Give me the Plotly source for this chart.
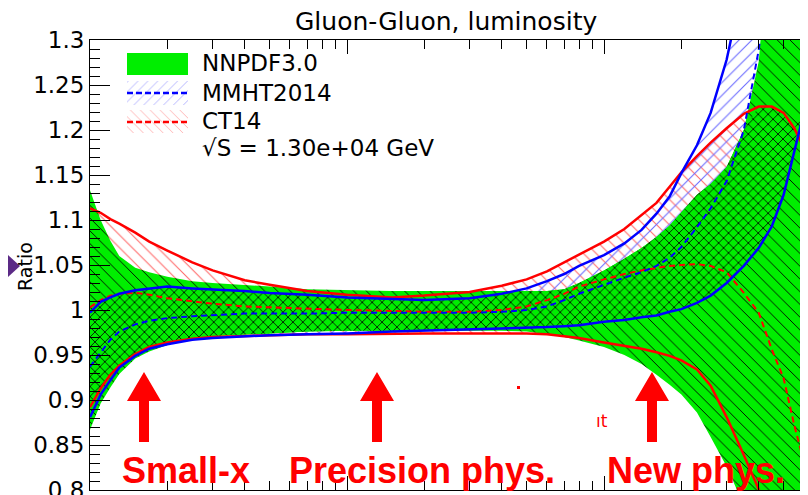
import numpy as np
import plotly.graph_objects as go

# ---------------- data ----------------
mass_gev = [10, 11, 12, 13, 15, 17, 20, 25, 30, 40, 50, 70, 100, 150, 200, 300, 400,
            500, 600, 700, 800, 1000, 1200, 1400, 1600, 1800, 2000, 2300, 2600, 3000,
            3500, 4000, 4500, 5000, 5500, 6000, 6500]

nnpdf_upper = [1.133, 1.100, 1.077, 1.060, 1.047, 1.042, 1.037, 1.032, 1.030, 1.028, 1.026,
               1.023, 1.022, 1.021, 1.021, 1.021, 1.021, 1.021, 1.021, 1.023, 1.030, 1.044,
               1.057, 1.069, 1.081, 1.094, 1.109, 1.128, 1.140, 1.159, 1.200, 1.276, 1.45,
               1.7, 1.7, 1.7, 1.7]
nnpdf_lower = [0.867, 0.896, 0.914, 0.929, 0.946, 0.954, 0.961, 0.968, 0.971, 0.973, 0.974,
               0.976, 0.977, 0.977, 0.977, 0.977, 0.977, 0.976, 0.973, 0.970, 0.966, 0.959,
               0.950, 0.940, 0.928, 0.917, 0.906, 0.886, 0.859, 0.826, 0.783, 0.722, 0.62,
               0.55, 0.55, 0.55, 0.55]

mmht_upper = [0.997, 1.009, 1.014, 1.018, 1.022, 1.024, 1.026, 1.024, 1.023, 1.021, 1.019,
              1.017, 1.014, 1.012, 1.011, 1.013, 1.018, 1.024, 1.032, 1.040, 1.049, 1.061,
              1.074, 1.089, 1.107, 1.126, 1.152, 1.183, 1.219, 1.278, 1.367, 1.478, 1.7,
              1.7, 1.7, 1.7, 1.7]
mmht_lower = [0.881, 0.906, 0.922, 0.936, 0.949, 0.957, 0.962, 0.967, 0.969, 0.971, 0.972,
              0.973, 0.974, 0.976, 0.977, 0.978, 0.979, 0.980, 0.981, 0.982, 0.983, 0.987,
              0.989, 0.992, 0.994, 0.998, 1.001, 1.008, 1.016, 1.030, 1.049, 1.069, 1.093,
              1.128, 1.176, 1.220, 1.256]
mmht_central = [0.937, 0.953, 0.967, 0.976, 0.984, 0.988, 0.991, 0.993, 0.994, 0.996, 0.996,
                0.996, 0.997, 0.997, 0.997, 0.997, 0.998, 1.000, 1.004, 1.011, 1.018, 1.028,
                1.036, 1.042, 1.049, 1.058, 1.070, 1.092, 1.113, 1.143, 1.200, 1.289, 1.4,
                1.567, 1.7, 1.7, 1.7]

ct14_upper = [1.113, 1.108, 1.101, 1.096, 1.086, 1.076, 1.066, 1.053, 1.044, 1.033, 1.028,
              1.021, 1.017, 1.014, 1.016, 1.020, 1.027, 1.034, 1.043, 1.053, 1.061, 1.076,
              1.090, 1.106, 1.119, 1.137, 1.153, 1.171, 1.186, 1.202, 1.218, 1.226, 1.226,
              1.219, 1.202, 1.180, 1.161]
ct14_lower = [0.892, 0.913, 0.928, 0.938, 0.951, 0.959, 0.964, 0.968, 0.970, 0.971, 0.972,
              0.973, 0.973, 0.974, 0.974, 0.974, 0.974, 0.974, 0.973, 0.971, 0.969, 0.964,
              0.960, 0.957, 0.953, 0.949, 0.944, 0.934, 0.916, 0.881, 0.839, 0.800, 0.767,
              0.722, 0.678, 0.633, 0.589]
ct14_central = [1.003, 1.011, 1.016, 1.018, 1.019, 1.017, 1.013, 1.010, 1.007, 1.004, 1.003,
                1.001, 1.000, 0.999, 0.998, 0.998, 1.000, 1.004, 1.011, 1.018, 1.026, 1.034,
                1.040, 1.044, 1.047, 1.049, 1.050, 1.051, 1.049, 1.042, 1.019, 0.997, 0.956,
                0.924, 0.872, 0.831, 0.800]

ytick_vals = [0.8, 0.85, 0.9, 0.95, 1.0, 1.05, 1.1, 1.15, 1.2, 1.25, 1.3]
ytick_text = ["0.8", "0.85", "0.9", "0.95", "1", "1.05", "1.1", "1.15", "1.2", "1.25", "1.3"]

title_text = "Gluon-Gluon, luminosity"
y_title = "Ratio"
legend_labels = ["NNPDF3.0", "MMHT2014", "CT14"]
energy_label = "\u221aS = 1.30e+04 GeV"
region_labels = ["Small-x", "Precision phys.", "New phys."]

# ---------------- geometry / style ----------------
# the page body has an 8px margin, so the figure is sized to fill the rest of the window
PAGE_OFF = 8
W, H = 808 - PAGE_OFF, 495 - PAGE_OFF
PLOT_L, PLOT_R, PLOT_T, PLOT_B = 90, 808, 40, 490          # plot area in window pixels
ML_, MT_ = PLOT_L - PAGE_OFF, PLOT_T - PAGE_OFF
MR_, MB_ = W - (PLOT_R - PAGE_OFF), H - (PLOT_B - PAGE_OFF)
PW, PH = PLOT_R - PLOT_L, PLOT_B - PLOT_T
X_MAX = 6220

GREEN = "#00ee00"
RED = "#ff0000"
BLUE = "#0000ff"
LRED = "#ff6a6a"
LBLUE = "#6a6aff"
CLEAR = "rgba(0,0,0,0)"
TXT_FONT = "DejaVu Sans"
BOLD_FONT = "Liberation Sans, Arial"


def fx(p):
    return (p - PLOT_L) / PW


def fy(p):
    return (PLOT_B - p) / PH


x = np.array(mass_gev, dtype=float)
nu, nl = np.array(nnpdf_upper), np.array(nnpdf_lower)
mu, mlo, mc = np.array(mmht_upper), np.array(mmht_lower), np.array(mmht_central)
cu, cl, cc = np.array(ct14_upper), np.array(ct14_lower), np.array(ct14_central)

iu = np.minimum.reduce([nu, mu, cu])
il = np.maximum.reduce([nl, mlo, cl])
iu = np.maximum(iu, il)


def band(up, lo):
    return np.concatenate([x, x[::-1]]), np.concatenate([up, lo[::-1]])


def pattern_band(up, lo, shape, fg, bg, size, sol):
    bx, by = band(up, lo)
    return go.Scatter(x=bx, y=by, mode="lines", line=dict(width=0), fill="toself",
                      fillcolor=bg, hoverinfo="skip",
                      fillpattern=dict(shape=shape, fgcolor=fg, bgcolor=bg, size=size,
                                       solidity=sol, fgopacity=1))


fig = go.Figure()
# CT14 hatch
fig.add_trace(pattern_band(cu, cl, "\\", LRED, CLEAR, 9, 0.12))
# MMHT hatch
fig.add_trace(pattern_band(mu, mlo, "/", LBLUE, CLEAR, 9, 0.12))
# NNPDF green band with black hatch
fig.add_trace(pattern_band(nu, nl, "\\", "black", GREEN, 9, 0.1))
# region where all three overlap: dense cross hatch
fig.add_trace(pattern_band(iu, il, "x", "black", GREEN, 7, 0.22))


def line(y, color, dash=None, width=2.5):
    return go.Scatter(x=x, y=y, mode="lines", hoverinfo="skip",
                      line=dict(color=color, width=width, dash=dash))


fig.add_trace(line(ct14_upper, RED))
fig.add_trace(line(ct14_lower, RED))
fig.add_trace(line(ct14_central, RED, dash="6px,4px", width=2))
fig.add_trace(line(mmht_upper, BLUE))
fig.add_trace(line(mmht_lower, BLUE))
fig.add_trace(line(mmht_central, BLUE, dash="6px,4px", width=2))

# ---------------- legend swatches (window-pixel overlay axes) ----------------
def rect(x0, x1, y0, y1, shape, fg, bg, size, sol):
    return go.Scatter(x=[x0, x1, x1, x0, x0], y=[y0, y0, y1, y1, y0], mode="lines",
                      line=dict(width=0), fill="toself", fillcolor=bg, hoverinfo="skip",
                      xaxis="x2", yaxis="y2",
                      fillpattern=dict(shape=shape, fgcolor=fg, bgcolor=bg, size=size,
                                       solidity=sol) if shape else None)


fig.add_trace(rect(127, 188, 53, 75, None, None, GREEN, 8, 0.1))
fig.add_trace(rect(127, 188, 81, 105, "/", LBLUE, CLEAR, 7, 0.14))
fig.add_trace(rect(127, 188, 110, 133, "\\", LRED, CLEAR, 7, 0.14))
fig.add_trace(go.Scatter(x=[127, 188], y=[93, 93], mode="lines", xaxis="x2", yaxis="y2",
                         line=dict(color=BLUE, width=2.5, dash="6px,3px"), hoverinfo="skip"))
fig.add_trace(go.Scatter(x=[127, 188], y=[122, 122], mode="lines", xaxis="x2", yaxis="y2",
                         line=dict(color=RED, width=2.5, dash="6px,3px"), hoverinfo="skip"))

annotations = [
    dict(x=fx(446), y=fy(21), text=title_text, font=dict(family=TXT_FONT, size=25, color="black")),
    dict(x=fx(25), y=fy(267), text=y_title, textangle=-90,
         font=dict(family=TXT_FONT, size=19, color="black")),
]
for lab, yy in zip(legend_labels + [energy_label], [63, 93, 121, 148]):
    annotations.append(dict(x=fx(200), y=fy(yy), text=lab, xanchor="left",
                            font=dict(family=TXT_FONT, size=23, color="black")))
for lab, xx in zip(region_labels, [186, 422, 696]):
    annotations.append(dict(x=fx(xx), y=fy(470), text="<b>" + lab + "</b>",
                            font=dict(family=BOLD_FONT, size=36, color=RED)))
annotations.append(dict(x=fx(602), y=fy(421), text="\u0131t",
                        font=dict(family=TXT_FONT, size=17, color=RED)))
for a in annotations:
    a.setdefault("xref", "paper")
    a.setdefault("yref", "paper")
    a.setdefault("showarrow", False)
    a.setdefault("xanchor", "center")
    a.setdefault("yanchor", "middle")


def arrow_path(cx, tip=372, base=401, bottom=442, hh=17, hs=5):
    pts = [(cx, tip), (cx + hh, base), (cx + hs, base), (cx + hs, bottom),
           (cx - hs, bottom), (cx - hs, base), (cx - hh, base)]
    return "M " + " L ".join(f"{fx(a):.5f},{fy(b):.5f}" for a, b in pts) + " Z"


shapes = []
for cx in [144, 377, 652]:
    shapes.append(dict(type="path", path=arrow_path(cx), xref="paper", yref="paper",
                       fillcolor=RED, line=dict(width=0)))
tri = [(8, 255), (20, 266), (8, 277)]
shapes.append(dict(type="path", xref="paper", yref="paper", fillcolor="#5b2a86",
                   line=dict(width=0),
                   path="M " + " L ".join(f"{fx(a):.5f},{fy(b):.5f}" for a, b in tri) + " Z"))
shapes.append(dict(type="rect", xref="paper", yref="paper", x0=fx(517), x1=fx(520),
                   y0=fy(389), y1=fy(386), fillcolor=RED, line=dict(width=0)))

fig.update_layout(
    width=W, height=H,
    margin=dict(l=ML_, r=MR_, t=MT_, b=MB_, autoexpand=False),
    plot_bgcolor="white", paper_bgcolor="white", showlegend=False,
    annotations=annotations, shapes=shapes,
    xaxis=dict(type="log", range=[1, np.log10(X_MAX)], showline=True, linecolor="black",
               linewidth=1, mirror="ticks", ticks="inside", ticklen=14, tickcolor="black",
               dtick=1, showticklabels=False, showgrid=False, zeroline=False,
               minor=dict(ticks="inside", ticklen=9, dtick="D1", tickcolor="black",
                          showgrid=False)),
    yaxis=dict(range=[0.8, 1.3], showline=True, linecolor="black", linewidth=1,
               ticks="inside", ticklen=20, tickcolor="black", tickmode="array",
               tickvals=ytick_vals, ticktext=ytick_text, showgrid=False, zeroline=False,
               ticklabeloverflow="allow",
               tickfont=dict(family=TXT_FONT, size=23, color="black"),
               minor=dict(ticks="inside", ticklen=10, tickmode="linear", tick0=0.8,
                          dtick=0.01, tickcolor="black", showgrid=False)),
    xaxis2=dict(overlaying="x", range=[PLOT_L, PLOT_R], visible=False, anchor="y2"),
    yaxis2=dict(overlaying="y", range=[PLOT_B, PLOT_T], visible=False, anchor="x2"),
)

fig.write_html("out.html")
